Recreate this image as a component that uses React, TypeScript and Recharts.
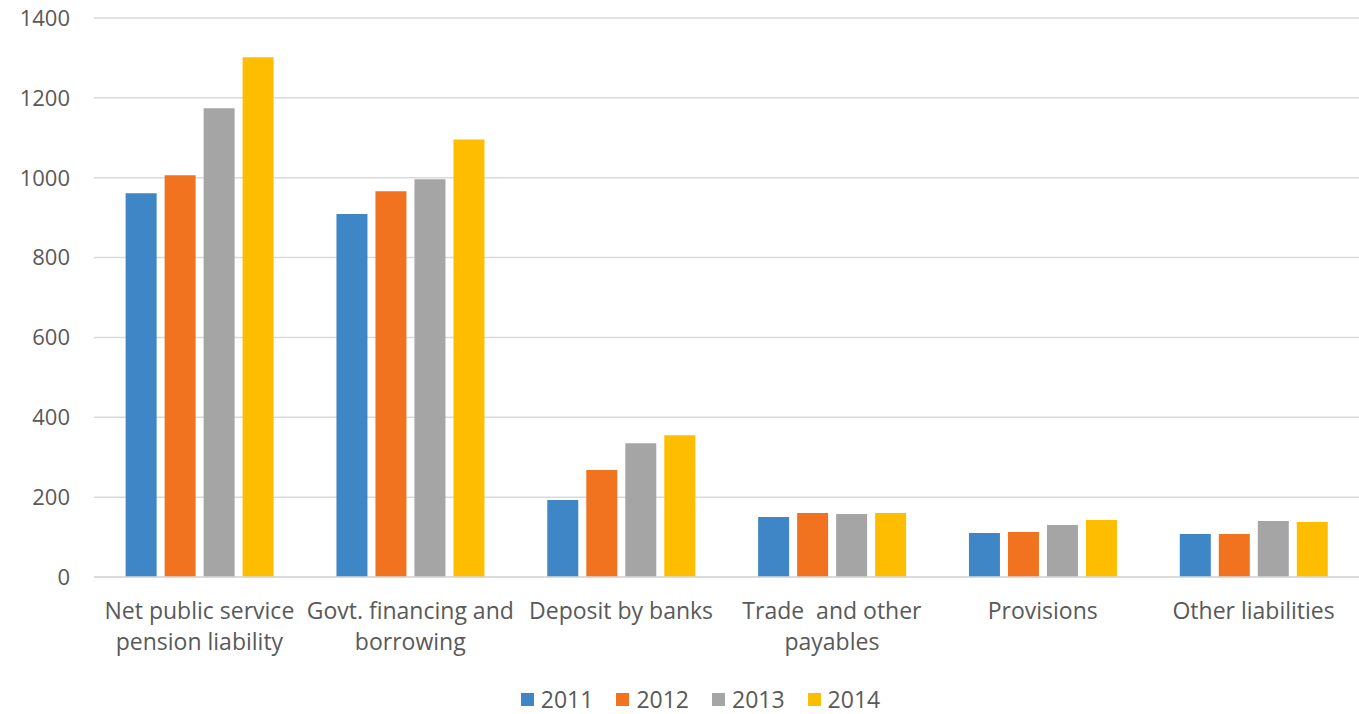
import { BarChart, Bar, XAxis, YAxis, CartesianGrid, Legend } from 'recharts';

const categories = [
  'Net public service\npension liability',
  'Govt. financing and\nborrowing',
  'Deposit by banks',
  'Trade  and other\npayables',
  'Provisions',
  'Other liabilities',
];
const years = ['2011', '2012', '2013', '2014'];
const values2011 = [961, 909, 193, 150, 110, 108];
const values2012 = [1006, 966, 268, 160, 113, 108];
const values2013 = [1174, 996, 335, 158, 130, 140];
const values2014 = [1302, 1096, 355, 160, 143, 138];
const yTicks = [0, 200, 400, 600, 800, 1000, 1200, 1400];

const colors = ['#3F86C6', '#F1731F', '#A5A5A5', '#FFBD00'];
const font = '"Open Sans", "Liberation Sans", sans-serif';
const textColor = '#595959';

const series = [values2011, values2012, values2013, values2014];
const data = categories.map((name, i) => {
  const row: Record<string, string | number> = { name };
  years.forEach((y, k) => {
    row[y] = series[k][i];
  });
  return row;
});

// category labels with manual line breaks
const CategoryTick = (props: any) => {
  const { x, y, payload } = props;
  const lines = String(payload.value).split('\n');
  return (
    <text x={x} y={y} textAnchor="middle" fill={textColor} fontSize={23} fontFamily={font} style={{ whiteSpace: 'pre' }}>
      {lines.map((line, i) => (
        <tspan key={i} x={x} dy={i === 0 ? 34 : 31}>
          {line}
        </tspan>
      ))}
    </text>
  );
};

const LegendContent = () => (
  <div
    style={{
      height: 30,
      lineHeight: '30px',
      display: 'flex',
      justifyContent: 'center',
      alignItems: 'center',
      paddingLeft: 40,
      boxSizing: 'border-box',
      fontFamily: font,
      fontSize: 23,
      color: textColor,
    }}
  >
    {years.map((y, i) => (
      <div key={y} style={{ display: 'flex', alignItems: 'center', marginRight: i < years.length - 1 ? 23 : 0 }}>
        <span style={{ width: 13, height: 13, background: colors[i], display: 'inline-block', marginRight: 7 }} />
        <span>{y}</span>
      </div>
    ))}
  </div>
);

export default function App() {
  return (
    <div style={{ position: 'absolute', left: 0, top: 0, width: 1359, height: 714, background: '#fff' }}>
      <BarChart
        width={1359}
        height={714}
        data={data}
        margin={{ top: 18, right: 0, bottom: 0, left: 2 }}
        barCategoryGap="15%"
        barGap={8}
      >
        <CartesianGrid vertical={false} stroke="#D9D9D9" strokeWidth={1.5} />
        <XAxis
          dataKey="name"
          interval={0}
          height={107}
          tickLine={false}
          axisLine={{ stroke: '#D9D9D9', strokeWidth: 1.5 }}
          tick={<CategoryTick />}
        />
        <YAxis
          width={92}
          domain={[0, 1400]}
          ticks={yTicks}
          axisLine={false}
          tickLine={false}
          tickMargin={18}
          tick={{ fill: textColor, fontSize: 22, fontFamily: font }}
        />
        <Legend verticalAlign="bottom" content={<LegendContent />} />
        {years.map((y, i) => (
          <Bar key={y} dataKey={y} fill={colors[i]} isAnimationActive={false} />
        ))}
      </BarChart>
    </div>
  );
}
